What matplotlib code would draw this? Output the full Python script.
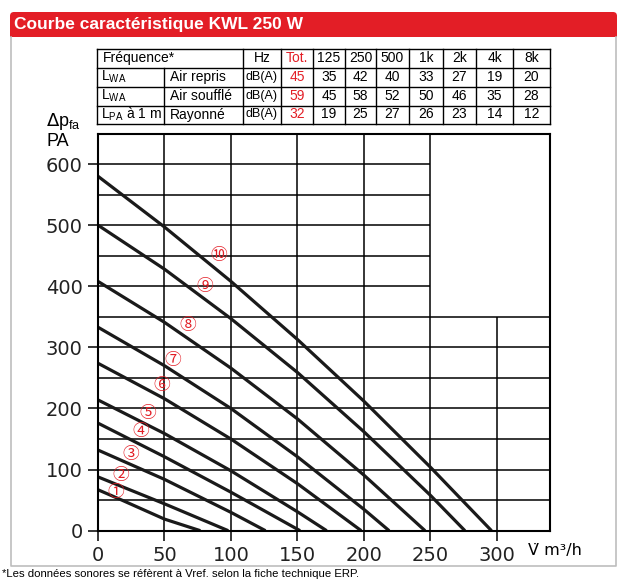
import numpy as np
from matplotlib import pyplot as plt
from matplotlib.patches import FancyBboxPatch, Rectangle

RED = '#e31e26'

# sound table
freq_hdr = ['Hz', 'Tot.', '125', '250', '500', '1k', '2k', '4k', '8k']
row_names = [r'L$_{\mathregular{WA}}$', r'L$_{\mathregular{WA}}$', r'L$_{\mathregular{PA}}$ à 1 m']
row_desc = ['Air repris', 'Air soufflé', 'Rayonné']
row_unit = ['dB(A)', 'dB(A)', 'dB(A)']
air_repris = [45, 35, 42, 40, 33, 27, 19, 20]
air_souffle = [59, 45, 58, 52, 50, 46, 35, 28]
rayonne = [32, 19, 25, 27, 26, 23, 14, 12]

# fan curves (flow m3/h, pressure Pa), 10% .. 100%
speeds = ['10%', '20%', '30%', '40%', '50%', '60%', '70%', '80%', '90%', '100%']
flow = [
    [0, 18, 50, 77],
    [0, 50, 98],
    [0, 50, 100, 126],
    [0, 50, 100, 152],
    [0, 50, 100, 150, 172],
    [0, 50, 100, 150, 198],
    [0, 50, 100, 150, 200, 219],
    [0, 50, 100, 150, 200, 246],
    [0, 50, 100, 150, 200, 250, 276],
    [0, 50, 100, 150, 200, 250, 296],
]
press = [
    [67, 50, 19, 0],
    [88, 44, 0],
    [132, 84, 30, 0],
    [176, 121, 63, 0],
    [214, 159, 98, 31, 0],
    [274, 216, 150, 77, 0],
    [333, 270, 200, 121, 35, 0],
    [408, 341, 266, 183, 91, 0],
    [500, 428, 347, 259, 162, 58, 0],
    [580, 497, 408, 313, 212, 104, 0],
]
circled = ['①', '②', '③', '④', '⑤', '⑥', '⑦', '⑧', '⑨', '⑩']
label_pos = [(13.5, 63), (17.3, 90), (24.8, 124), (32.3, 162), (37.6, 191),
             (48, 237), (56.4, 278), (67.7, 335), (80.5, 400), (91, 450)]

helv = ['Liberation Sans', 'DejaVu Sans']
sym = ['Noto Sans CJK JP', 'DejaVu Sans']
plt.rcParams['mathtext.fontset'] = 'dejavusans'

fig = plt.figure(figsize=(6.26, 5.87), dpi=100)

# overlay in pixel coords for decoration
bg = fig.add_axes([0, 0, 1, 1])
bg.set_xlim(0, 626)
bg.set_ylim(587, 0)
bg.axis('off')

bg.add_patch(FancyBboxPatch((10, 12), 607, 25, boxstyle='round,pad=0,rounding_size=4',
                            fc=RED, ec='none'))
bg.add_patch(Rectangle((10, 26), 607, 11, fc=RED, ec='none'))
bg.text(14, 25, 'Courbe caractéristique KWL 250 W', color='white', fontsize=12.5,
        fontweight='bold', family=helv, va='center', ha='left')
bg.plot([11, 11, 616, 616], [37, 566, 566, 37], color='#bdbdbd', lw=1.2)

# table grid
cols = [97, 243, 281, 313, 345, 376, 409, 443, 476, 513, 550]
rows = [49, 67.5, 86.5, 105.5, 123.5]
tlw = 1.0
for y in rows:
    bg.plot([cols[0], cols[-1]], [y, y], color='k', lw=tlw)
for x in cols:
    bg.plot([x, x], [rows[0], rows[-1]], color='k', lw=tlw)
bg.plot([164, 164], [rows[1], rows[-1]], color='k', lw=tlw)

tfs = 10
bg.text(103, (rows[0] + rows[1]) / 2, 'Fréquence*', family=helv, fontsize=tfs, va='center')
for j, h in enumerate(freq_hdr):
    cx = (cols[j + 1] + cols[j + 2]) / 2
    bg.text(cx, (rows[0] + rows[1]) / 2, h, family=helv, fontsize=tfs, va='center',
            ha='center', color=RED if h == 'Tot.' else 'k')
for i, vals in enumerate([air_repris, air_souffle, rayonne]):
    cy = (rows[i + 1] + rows[i + 2]) / 2
    bg.text(101, cy, row_names[i], family=helv, fontsize=tfs, va='center')
    bg.text(170, cy, row_desc[i], family=helv, fontsize=tfs, va='center')
    bg.text((cols[1] + cols[2]) / 2, cy, row_unit[i], family=helv, fontsize=9,
            va='center', ha='center')
    for j, v in enumerate(vals):
        cx = (cols[j + 2] + cols[j + 3]) / 2
        bg.text(cx, cy, str(v), family=helv, fontsize=tfs, va='center', ha='center',
                color=RED if j == 0 else 'k')

# legend
for k in range(10):
    y = 151 + k * 16.55
    bg.text(470.5, y, circled[k], family=sym, fontsize=12, color=RED, ha='center', va='center')
    bg.text(521, y, speeds[k], family=helv, fontsize=10.5, ha='right', va='center')

bg.text(46, 122, r'$\Delta$p$_{\mathregular{fa}}$', fontsize=13, va='center', family=helv)
bg.text(46, 141, 'PA', fontsize=13, va='center', family=helv)
bg.text(528, 551, 'V\u0307 m³/h', fontsize=11.5, va='center', family=['DejaVu Sans'])
bg.text(2, 574, '*Les données sonores se réfèrent à Vref. selon la fiche technique ERP.',
        fontsize=8.2, va='center', family=helv)

# chart
ax = fig.add_axes([98 / 626, 1 - 530.7 / 587, 452 / 626, 397.2 / 587])
ax.set_xlim(0, 340)
ax.set_ylim(0, 650)
glw = 1.1
ax.vlines([50, 100, 150, 200, 250], 0, 650, color='k', lw=glw)
ax.vlines([300], 0, 350, color='k', lw=glw)
ax.hlines([50, 100, 150, 200, 250, 300, 350], 0, 340, color='k', lw=glw)
ax.hlines([400, 450, 500, 550, 600], 0, 250, color='k', lw=glw)

for i in range(10):
    ax.plot(flow[i], press[i], color='#1a1a1a', lw=2.3, solid_capstyle='butt',
            solid_joinstyle='round')
    lx, ly = label_pos[i]
    ax.text(lx, ly, circled[i], family=sym, fontsize=12, color=RED, ha='center',
            va='center')

for s in ax.spines.values():
    s.set_linewidth(1.5)
ax.set_xticks(np.arange(0, 301, 50))
ax.set_yticks(np.arange(0, 601, 100))
ax.tick_params(direction='out', length=7, width=1.1, labelsize=14, pad=4)
for t in ax.get_xticklabels() + ax.get_yticklabels():
    t.set_family('DejaVu Sans')
    t.set_color('#222222')

plt.savefig('out.png', dpi=100)
